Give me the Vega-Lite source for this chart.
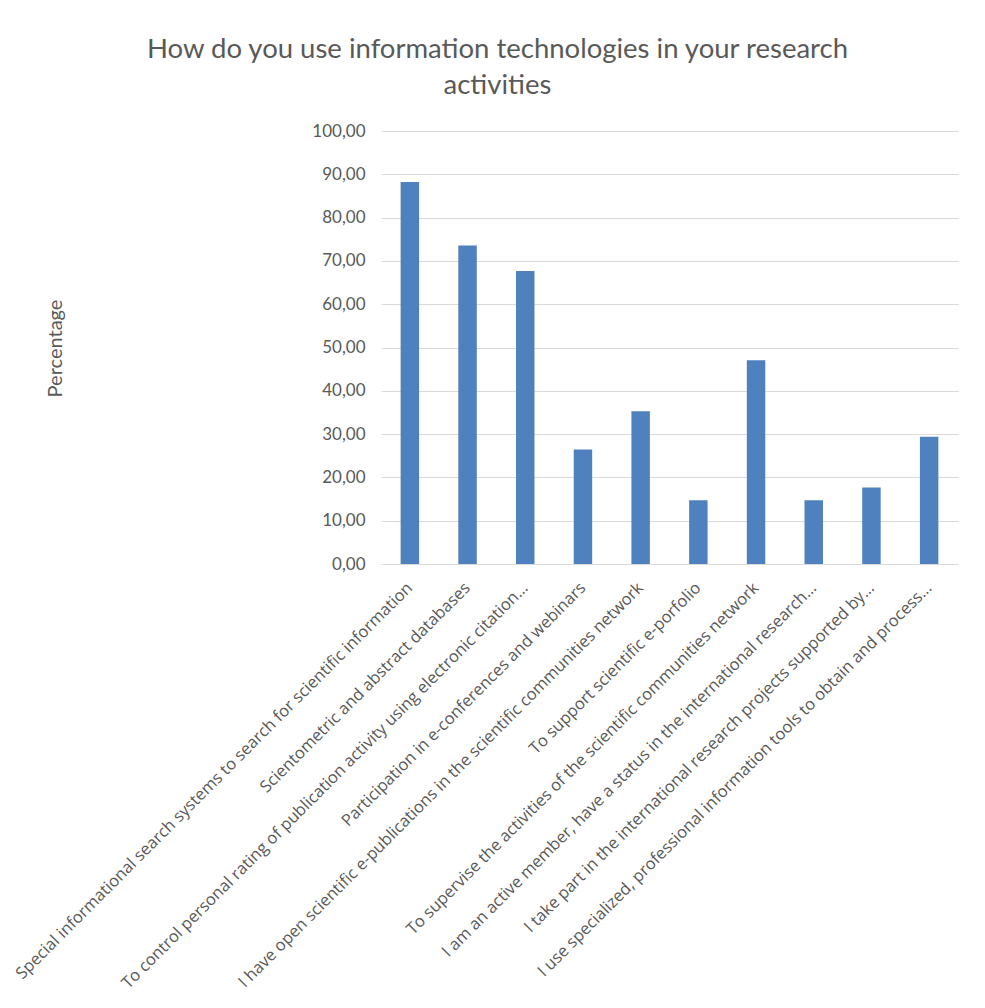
{
  "$schema": "https://vega.github.io/schema/vega-lite/v6.json",
  "autosize": {"type": "none"},
  "width": 577,
  "height": 433,
  "padding": {"left": 381, "top": 131, "right": 27, "bottom": 444},
  "background": "white",
  "config": {
    "locale": {"number": {"decimal": ",", "thousands": " ", "grouping": [3], "currency": ["", ""]}},
    "view": {"stroke": null},
    "font": "Lato"
  },
  "title": {
    "text": ["How do you use information technologies in your research", "activities"],
    "font": "Lato",
    "fontSize": 27.5,
    "fontWeight": "normal",
    "color": "#595959",
    "anchor": "middle",
    "dx": -172,
    "offset": 23,
    "lineHeight": 36
  },
  "data": {
    "values": [
      {"use": "Special informational search systems to search for scientific information", "pct": 88.24},
      {"use": "Scientometric and abstract databases", "pct": 73.53},
      {"use": "To control personal rating of publication activity using electronic citation…", "pct": 67.65},
      {"use": "Participation in e-conferences and webinars", "pct": 26.47},
      {"use": "I have open scientific e-publications in the scientific communities network", "pct": 35.29},
      {"use": "To support scientific e-porfolio", "pct": 14.71},
      {"use": "To supervise the activities of the scientific communities network", "pct": 47.06},
      {"use": "I am an active member, have a status in the international research…", "pct": 14.71},
      {"use": "I take part in the international research projects supported by…", "pct": 17.65},
      {"use": "I use specialized, professional information tools to obtain and process…", "pct": 29.41}
    ]
  },
  "mark": {"type": "bar", "color": "#4e81bd"},
  "encoding": {
    "x": {
      "field": "use",
      "type": "nominal",
      "sort": null,
      "scale": {"paddingInner": 0.68, "paddingOuter": 0.34},
      "axis": {
        "title": null,
        "labelAngle": -45,
        "labelAlign": "right",
        "labelBaseline": "middle",
        "labelFont": "Open Sans",
        "labelFontSize": 16.5,
        "labelColor": "#595959",
        "labelLimit": 0,
        "labelPadding": 21,
        "ticks": false,
        "domainColor": "#d9d9d9",
        "domainWidth": 1
      }
    },
    "y": {
      "field": "pct",
      "type": "quantitative",
      "scale": {"domain": [0, 100]},
      "axis": {
        "title": "Percentage",
        "titleFont": "Lato",
        "titleFontSize": 20,
        "titleFontWeight": "normal",
        "titleColor": "#595959",
        "titleX": -326,
        "titleY": 217,
        "titleAngle": -90,
        "titleAlign": "center",
        "titleBaseline": "middle",
        "values": [0, 10, 20, 30, 40, 50, 60, 70, 80, 90, 100],
        "format": ".2f",
        "labelFont": "Lato",
        "labelFontSize": 17,
        "labelColor": "#595959",
        "labelPadding": 16,
        "ticks": false,
        "domain": false,
        "gridColor": "#d9d9d9",
        "gridWidth": 1
      }
    }
  }
}
